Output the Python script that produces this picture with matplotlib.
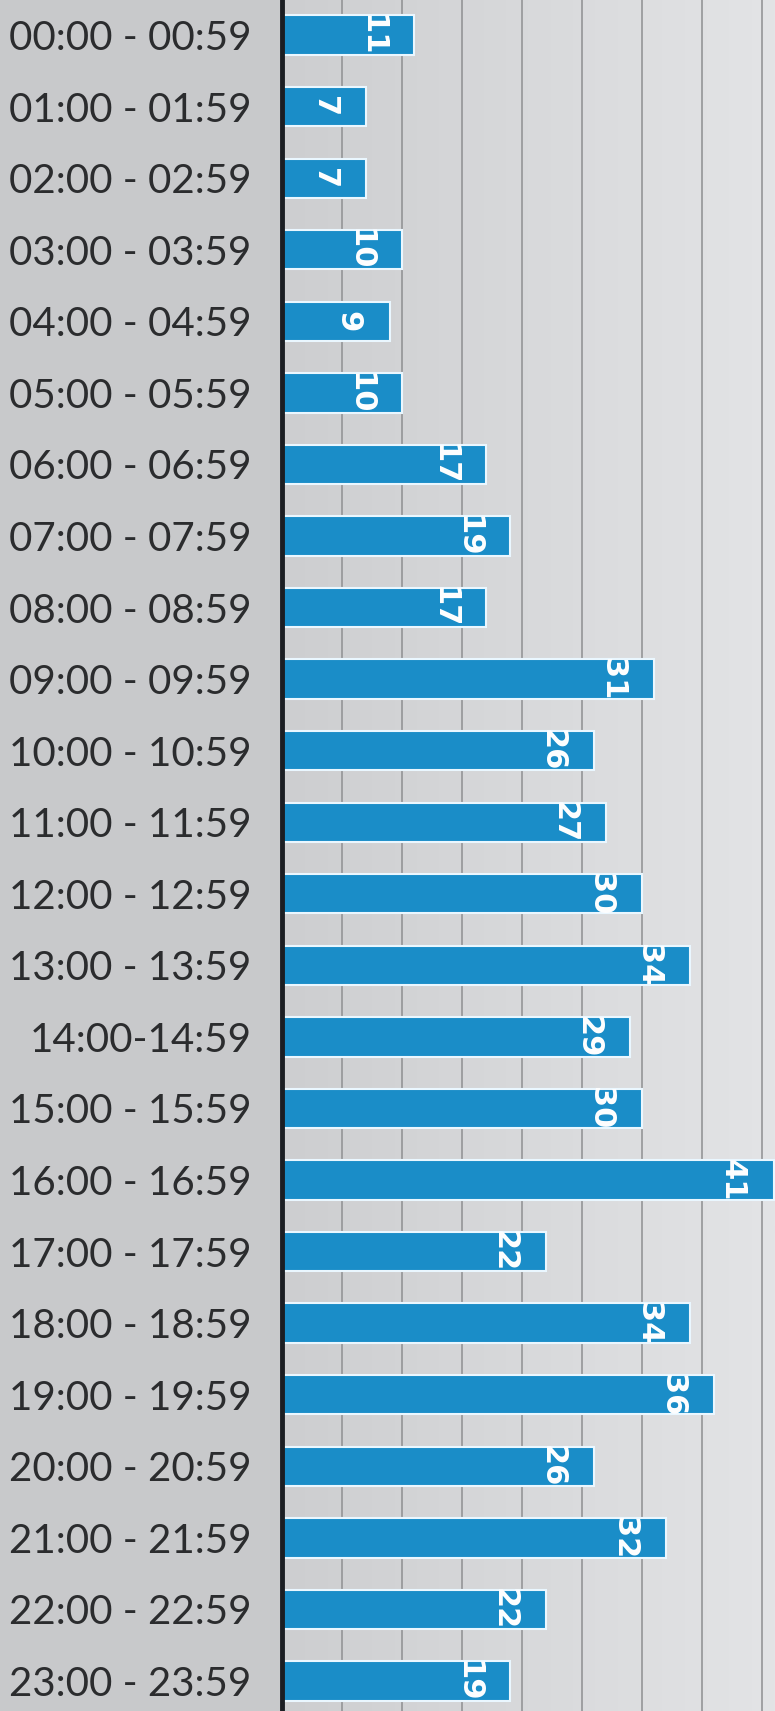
import matplotlib
matplotlib.use('Agg')
import matplotlib.pyplot as plt
from matplotlib.colors import LinearSegmentedColormap
import numpy as np

hours = [
    "00:00 - 00:59", "01:00 - 01:59", "02:00 - 02:59", "03:00 - 03:59",
    "04:00 - 04:59", "05:00 - 05:59", "06:00 - 06:59", "07:00 - 07:59",
    "08:00 - 08:59", "09:00 - 09:59", "10:00 - 10:59", "11:00 - 11:59",
    "12:00 - 12:59", "13:00 - 13:59", "14:00-14:59", "15:00 - 15:59",
    "16:00 - 16:59", "17:00 - 17:59", "18:00 - 18:59", "19:00 - 19:59",
    "20:00 - 20:59", "21:00 - 21:59", "22:00 - 22:59", "23:00 - 23:59",
]
counts = [11, 7, 7, 10, 9, 10, 17, 19, 17, 31, 26, 27,
          30, 34, 29, 30, 41, 22, 34, 36, 26, 32, 22, 19]
grid_ticks = [5, 10, 15, 20, 25, 30, 35, 40]

BAR = '#1a8dc8'
TEXT = '#2b2c2e'

fig = plt.figure(figsize=(7.75, 17.11), dpi=100, facecolor='#c8c9cb')
ax = fig.add_axes([0.364, 0.0, 0.636, 1.0])

y = np.arange(len(hours))
xmax = 41.1
ax.set_xlim(0, xmax)
ax.set_ylim(23.42, -0.49)

# paper-ish gradient behind the plot area
bg = LinearSegmentedColormap.from_list('bg', ['#cdced0', '#e3e4e6'])
ax.imshow(np.linspace(0, 1, 256)[None, :], cmap=bg, aspect='auto',
          extent=(0, xmax, 23.42, -0.49), zorder=0, interpolation='bilinear')

for g in grid_ticks:
    ax.axvline(g, color='#8e8f91', lw=1.1, zorder=1)

ax.barh(y, counts, height=0.55, color=BAR, edgecolor='#eaf7ff', linewidth=1.5, zorder=2)

for i, v in enumerate(counts):
    ax.annotate(str(v), xy=(v, i), xytext=(-30, 0), textcoords='offset points',
                rotation=-90, ha='center', va='center', color='white',
                fontsize=22, fontweight='bold', family='DejaVu Sans', zorder=3)

ax.set_yticks(y)
ax.set_yticklabels(hours, family=['Lato', 'DejaVu Sans'], fontsize=29, color=TEXT)
ax.tick_params(axis='y', length=0, pad=22)
ax.set_xticks([])

for side in ['top', 'right', 'bottom']:
    ax.spines[side].set_visible(False)
ax.spines['left'].set_color('#1b1e23')
ax.spines['left'].set_linewidth(3.5)
ax.spines['left'].set_zorder(4)

fig.savefig('out.png', dpi=100, facecolor=fig.get_facecolor())
